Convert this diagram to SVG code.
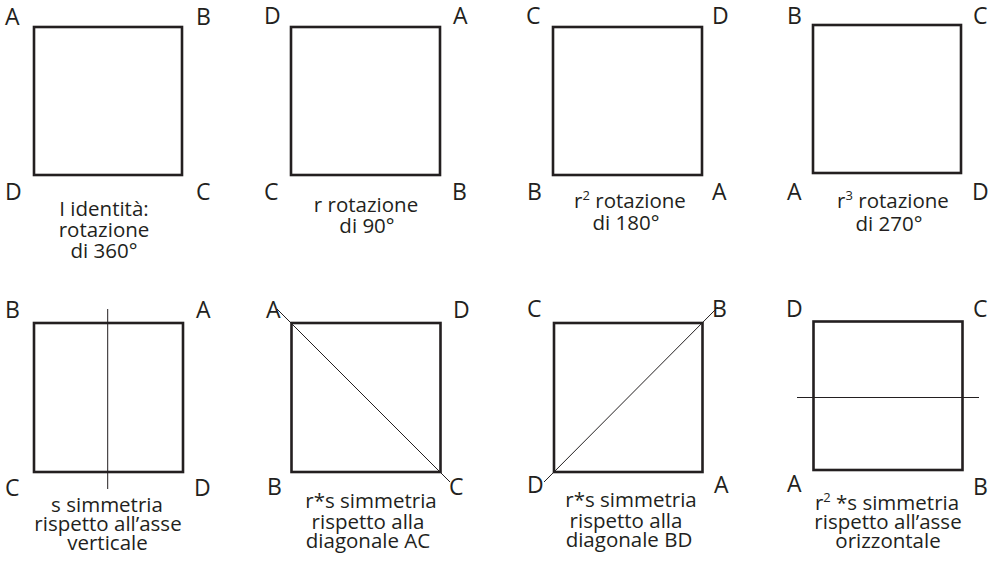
<svg xmlns="http://www.w3.org/2000/svg" width="1001" height="564" viewBox="0 0 1001 564">
<style>
.sq{fill:none;stroke:#231f20;stroke-width:2.6}
.ax{fill:none;stroke:#231f20;stroke-width:1}
.v{font-family:"Open Sans","Noto Sans",sans-serif;font-size:23px;fill:#231f20}
.l{font-family:"Open Sans","Noto Sans",sans-serif;font-size:20.5px;fill:#231f20;text-anchor:middle}
.sup{font-size:13px}
</style>
<rect width="1001" height="564" fill="#fff"/>
<g id="n1">
<rect class="sq" x="34" y="27" width="148" height="148"/>
<text class="v" x="5" y="25">A</text><text class="v" x="196" y="25">B</text>
<text class="v" x="5" y="200">D</text><text class="v" x="196" y="200">C</text>
<text class="l" x="104" y="216">I identità:</text>
<text class="l" x="104" y="237">rotazione</text>
<text class="l" x="104" y="258">di 360°</text>
</g>
<g id="n2">
<rect class="sq" x="291" y="27" width="149" height="148"/>
<text class="v" x="264" y="24">D</text><text class="v" x="453" y="24">A</text>
<text class="v" x="264" y="200">C</text><text class="v" x="452" y="200">B</text>
<text class="l" x="366" y="212">r rotazione</text>
<text class="l" x="367" y="233">di 90°</text>
</g>
<g id="n3">
<rect class="sq" x="553" y="27" width="149" height="148"/>
<text class="v" x="526" y="24">C</text><text class="v" x="712" y="24">D</text>
<text class="v" x="527" y="200">B</text><text class="v" x="712" y="200">A</text>
<text class="l" x="630" y="208">r<tspan class="sup" dy="-8">2</tspan><tspan dy="8">  rotazione</tspan></text>
<text class="l" x="626" y="230">di 180°</text>
</g>
<g id="n4">
<rect class="sq" x="813" y="25" width="148" height="148"/>
<text class="v" x="787" y="24">B</text><text class="v" x="973" y="24">C</text>
<text class="v" x="787" y="200">A</text><text class="v" x="972" y="200">D</text>
<text class="l" x="893" y="208">r<tspan class="sup" dy="-8">3</tspan><tspan dy="8">  rotazione</tspan></text>
<text class="l" x="889" y="231">di 270°</text>
</g>
<g id="n5">
<rect class="sq" x="34" y="323" width="149" height="149"/>
<text class="v" x="5" y="318">B</text><text class="v" x="196" y="318">A</text>
<text class="v" x="5" y="496">C</text><text class="v" x="194" y="496">D</text>
<text class="l" x="107" y="512">s  simmetria</text>
<text class="l" x="108" y="531">rispetto all’asse</text>
<text class="l" x="107.5" y="550">verticale</text>
</g>
<g id="n6">
<rect class="sq" x="291.5" y="323" width="149" height="149"/>
<text class="v" x="266" y="318">A</text><text class="v" x="453" y="318">D</text>
<text class="v" x="267" y="495">B</text><text class="v" x="449" y="495">C</text>
<text class="l" x="371" y="508">r*s simmetria</text>
<text class="l" x="368" y="529">rispetto alla</text>
<text class="l" x="368" y="548">diagonale AC</text>
</g>
<g id="n7">
<rect class="sq" x="554" y="323" width="148.5" height="149"/>
<text class="v" x="527" y="317">C</text><text class="v" x="712" y="317">B</text>
<text class="v" x="527" y="493">D</text><text class="v" x="714" y="493">A</text>
<text class="l" x="631" y="507">r*s simmetria</text>
<text class="l" x="626" y="528">rispetto alla</text>
<text class="l" x="629" y="547">diagonale BD</text>
</g>
<g id="n8">
<rect class="sq" x="813.5" y="321.5" width="149" height="148.5"/>
<text class="v" x="786" y="317">D</text><text class="v" x="973" y="317">C</text>
<text class="v" x="787" y="492">A</text><text class="v" x="973" y="495">B</text>
<text class="l" x="887" y="510">r<tspan class="sup" dy="-8">2</tspan><tspan dy="8"> *s  simmetria</tspan></text>
<text class="l" x="888" y="529">rispetto all’asse</text>
<text class="l" x="888" y="548">orizzontale</text>
</g>
<g id="connectors">
<line class="ax" x1="107.7" y1="309" x2="107.7" y2="489"/>
<line class="ax" x1="277" y1="309" x2="450" y2="482"/>
<line class="ax" x1="544" y1="482" x2="718" y2="307"/>
<line class="ax" x1="797" y1="397.5" x2="979" y2="397.5"/>
</g>
</svg>
